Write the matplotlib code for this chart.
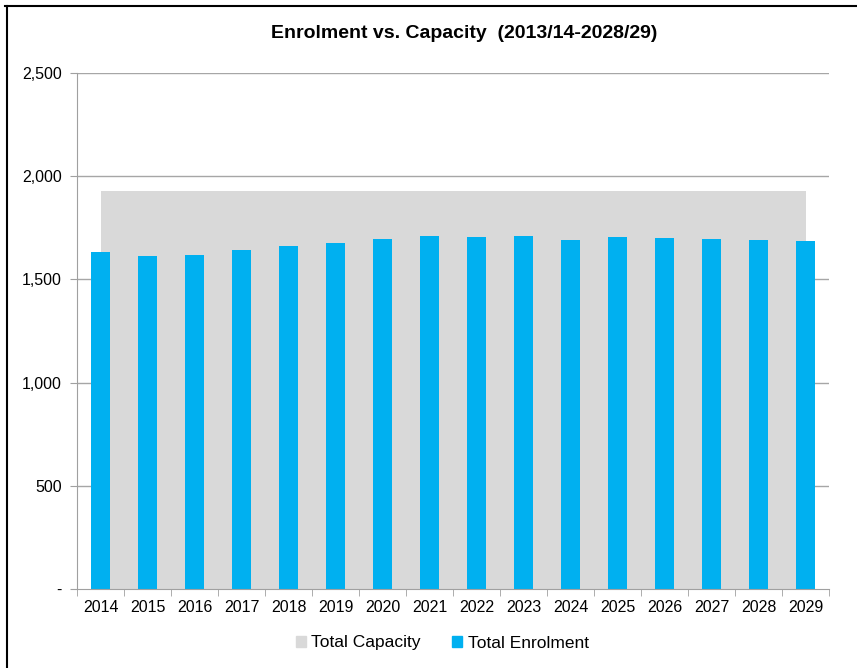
import matplotlib
matplotlib.use("Agg")
import matplotlib.pyplot as plt
from matplotlib.lines import Line2D
from matplotlib.patches import Patch
import numpy as np

years = ["2014", "2015", "2016", "2017", "2018", "2019", "2020", "2021",
         "2022", "2023", "2024", "2025", "2026", "2027", "2028", "2029"]
capacity = [1930] * 16
enrolment = [1631, 1612, 1617, 1641, 1660, 1675, 1694, 1709,
             1704, 1709, 1689, 1704, 1699, 1694, 1689, 1684]
yticks = [0, 500, 1000, 1500, 2000, 2500]
ytick_labels = ["-", "500", "1,000", "1,500", "2,000", "2,500"]

narrow = ["Liberation Sans Narrow", "Liberation Sans", "DejaVu Sans"]
fig = plt.figure(figsize=(8.57, 6.68), dpi=100)
ax = fig.add_axes([77/857, 1-589/668, (829-77)/857, (589-73)/668])

x = np.arange(len(years))
ax.fill_between(x, 0, capacity, color="#D9D9D9", linewidth=0, zorder=1)
ax.bar(x, enrolment, width=0.4, color="#00B0F0", zorder=2)

ax.set_xlim(-0.5, len(years) - 0.5)
ax.set_ylim(0, 2500)
ax.set_yticks(yticks)
ax.set_yticklabels(ytick_labels, fontfamily=narrow, fontsize=11.5)
ax.set_xticks(x)
ax.set_xticklabels(years, fontfamily=narrow, fontsize=11.5)
ax.set_xticks(np.arange(-0.5, len(years), 1), minor=True)
ax.tick_params(axis="x", which="major", length=0, pad=8)
ax.tick_params(axis="x", which="minor", length=5, color="#A0A0A0")
ax.tick_params(axis="y", length=5, color="#A0A0A0", pad=6)
for yv in yticks[1:]:
    ax.axhline(yv, color="#A6A6A6", linewidth=1, zorder=0)
for s in ["top", "right"]:
    ax.spines[s].set_visible(False)
ax.spines["left"].set_color("#A0A0A0")
ax.spines["bottom"].set_color("#A0A0A0")

fig.text(464/857, 1-33/668, "Enrolment vs. Capacity  (2013/14-2028/29)",
         ha="center", va="center", fontsize=14, fontweight="bold",
         fontfamily=["Liberation Sans", "DejaVu Sans"])

handles = [Patch(color="#D9D9D9", label="Total Capacity"),
           Patch(color="#00B0F0", label="Total Enrolment")]
fig.legend(handles=handles, loc="center", bbox_to_anchor=(442/857, 1-643/668),
           ncol=2, frameon=False, prop={"family": narrow, "size": 12.5},
           handlelength=0.6, handleheight=0.6, handletextpad=0.3, columnspacing=1.8)

fig.add_artist(Line2D([5/857, 1], [1-6/668, 1-6/668], color="black", linewidth=1.5))
fig.add_artist(Line2D([7/857, 7/857], [0, 1-6/668], color="black", linewidth=1.5))

fig.savefig("out.png", dpi=100)
